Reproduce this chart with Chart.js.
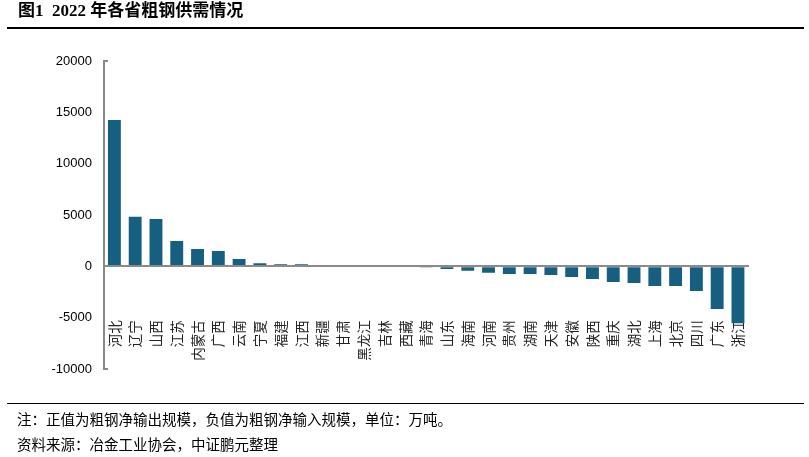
<!DOCTYPE html>
<html>
<head>
<meta charset="utf-8">
<script src="https://cdn.jsdelivr.net/npm/chart.js@4.4.0/dist/chart.umd.min.js"></script>
<style>
  body { margin: 0; background: #fff; }
  #wrap { position: relative; width: 809px; height: 457px; overflow: hidden; }
  #chartBox { position: absolute; left: 0; top: 0; width: 809px; height: 457px; }
  .title { position: absolute; left: 18px; top: 0; line-height: 22px; font-size: 17px; font-weight: bold;
           font-family: "Liberation Serif", "Noto Sans CJK SC", serif; color: #000; white-space: pre; }
  .rule { position: absolute; left: 7px; width: 797px; background: #000; }
  .note { position: absolute; left: 17px; line-height: 20px; font-size: 14.5px;
          font-family: "Noto Sans CJK SC", sans-serif; color: #000; white-space: nowrap; }
</style>
</head>
<body>
<div id="wrap">
  <div id="chartBox"><canvas id="myChart"></canvas></div>
  <div class="title">图1  2022 年各省粗钢供需情况</div>
  <div class="rule" style="top:27px;height:1.5px;"></div>
  <div class="rule" style="top:403px;height:1px;"></div>
  <div class="note" style="top:409px;">注：正值为粗钢净输出规模，负值为粗钢净输入规模，单位：万吨。</div>
  <div class="note" style="top:434px;">资料来源：冶金工业协会，中证鹏元整理</div>
</div>
<script>
// 各省粗钢净输出(+)/净输入(-) 规模，万吨
var provinces = ['河北', '辽宁', '山西', '江苏', '内蒙古', '广西', '云南', '宁夏', '福建', '江西',
    '新疆', '甘肃', '黑龙江', '吉林', '西藏', '青海', '山东', '海南', '河南', '贵州',
    '湖南', '天津', '安徽', '陕西', '重庆', '湖北', '上海', '北京', '四川', '广东', '浙江'];
var netValues = [14250, 4830, 4600, 2460, 1680, 1490, 710, 300, 200, 200,
    40, 20, 10, 0, 0, -20, -260, -430, -620, -750,
    -750, -850, -1040, -1240, -1530, -1630, -1920, -1920, -2400, -4150, -5550];
var yMin = -10000;
var yMax = 20000;
var yStep = 5000;

var axisGray = '#8a8a8a';

window.onload = function () {
    var ctx = document.getElementById('myChart');
    window.myBar = new Chart(ctx, {
        type: 'bar',
        data: {
            labels: provinces,
            datasets: [{
                label: '粗钢净输出',
                data: netValues,
                backgroundColor: '#175f80',
                borderWidth: 0,
                categoryPercentage: 1,
                barPercentage: 0.62
            }]
        },
        options: {
            responsive: true,
            maintainAspectRatio: false,
            animation: false,
            layout: { padding: { top: 61, bottom: 88, left: 0, right: 52 } },
            plugins: { legend: { display: false }, tooltip: { enabled: false } },
            scales: {
                x: {
                    position: { y: 0 },
                    grid: { display: true, drawOnChartArea: false, drawTicks: false },
                    border: { display: true, color: axisGray, width: 2, z: 1 },
                    ticks: {
                        autoSkip: false,
                        maxRotation: 90,
                        minRotation: 90,
                        padding: 54,
                        color: '#222',
                        font: { family: '"Noto Sans CJK SC", sans-serif', size: 13.5 }
                    }
                },
                y: {
                    min: yMin,
                    max: yMax,
                    afterFit: function (scale) { scale.width = 104; },
                    grid: {
                        drawOnChartArea: false,
                        tickLength: -4,
                        lineWidth: 2,
                        color: function (c) {
                            if (c.tick && (c.tick.value === yMin || c.tick.value === yMax)) return axisGray;
                            return 'rgba(0,0,0,0)';
                        }
                    },
                    border: { display: true, color: axisGray, width: 2 },
                    ticks: {
                        stepSize: yStep,
                        padding: 16,
                        color: '#000',
                        font: { family: '"Liberation Sans", Arial, sans-serif', size: 13 },
                        callback: function (v) { return String(v); }
                    }
                }
            }
        }
    });
};
</script>
</body>
</html>
